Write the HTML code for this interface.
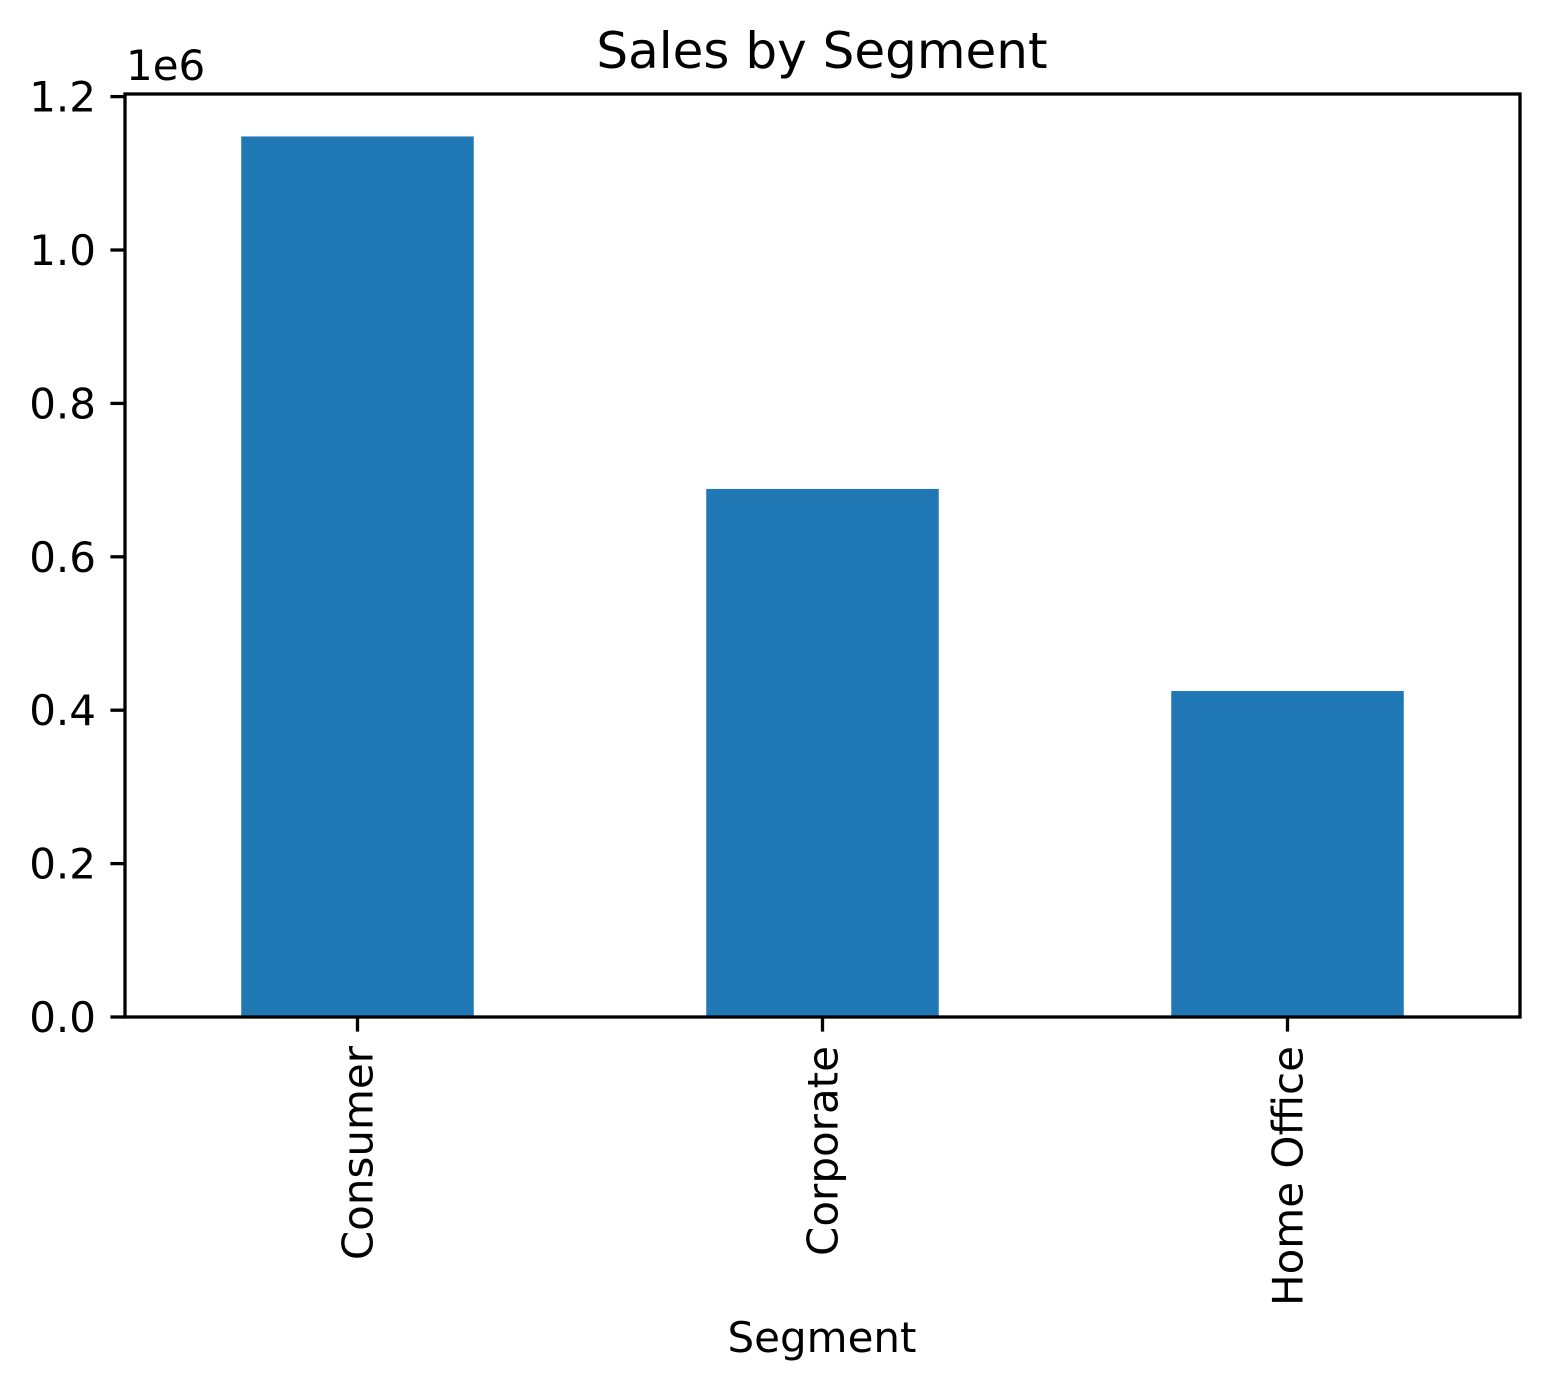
<!DOCTYPE html>
<html><head><meta charset="utf-8"><style>
body{margin:0;background:#fff;}
svg text{font-family:"DejaVu Sans","Liberation Sans",sans-serif;fill:#000;}
</style></head><body>
<svg id="chart" width="1550" height="1391" viewBox="0 0 1550 1391" xmlns="http://www.w3.org/2000/svg">
<rect width="1550" height="1391" fill="#fff"/>
<text x="822" y="68" font-size="50" text-anchor="middle">Sales by Segment</text>
<text x="126" y="80" font-size="42">1e6</text>
<text x="822" y="1352" font-size="42" text-anchor="middle">Segment</text>
<g id="bars"></g>
<g id="axes"></g>
</svg>
<script>
const categories = ["Consumer", "Corporate", "Home Office"];
const sales = [1148061, 688494, 424982];
const yTicks = [0, 0.2e6, 0.4e6, 0.6e6, 0.8e6, 1.0e6, 1.2e6];
const yTickLabels = ["0.0", "0.2", "0.4", "0.6", "0.8", "1.0", "1.2"];

const L = 125, R = 1520, T = 94, B = 1017;
const yMax = 1.2034e6;
const xScale = i => L + (i + 0.5) * (R - L) / categories.length;
const yScale = v => B - v / yMax * (B - T);
const NS = "http://www.w3.org/2000/svg";
const bars = document.getElementById("bars");
const axes = document.getElementById("axes");
const bw = 0.5 * (R - L) / categories.length;

sales.forEach((v, i) => {
  const r = document.createElementNS(NS, "rect");
  r.setAttribute("x", xScale(i) - bw / 2);
  r.setAttribute("y", yScale(v));
  r.setAttribute("width", bw);
  r.setAttribute("height", B - yScale(v));
  r.setAttribute("fill", "#1f77b4");
  
  
  bars.appendChild(r);
});

const frame = document.createElementNS(NS, "rect");
frame.setAttribute("x", L); frame.setAttribute("y", T);
frame.setAttribute("width", R - L); frame.setAttribute("height", B - T);
frame.setAttribute("fill", "none"); frame.setAttribute("stroke", "#000"); frame.setAttribute("stroke-width", "3.3");


axes.appendChild(frame);

yTicks.forEach((v, i) => {
  const y = yScale(v);
  const t = document.createElementNS(NS, "line");
  t.setAttribute("x1", L - 14.6); t.setAttribute("x2", L);
  t.setAttribute("y1", y); t.setAttribute("y2", y);
  t.setAttribute("stroke", "#000"); t.setAttribute("stroke-width", "3.3");
  
  
  axes.appendChild(t);
  const tx = document.createElementNS(NS, "text");
  tx.setAttribute("x", L - 29); tx.setAttribute("y", y + 15);
  tx.setAttribute("font-size", "42"); tx.setAttribute("text-anchor", "end");
  tx.textContent = yTickLabels[i];
  
  
  axes.appendChild(tx);
});

categories.forEach((c, i) => {
  const x = xScale(i);
  const t = document.createElementNS(NS, "line");
  t.setAttribute("x1", x); t.setAttribute("x2", x);
  t.setAttribute("y1", B); t.setAttribute("y2", B + 14.6);
  t.setAttribute("stroke", "#000"); t.setAttribute("stroke-width", "3.3");
  
  
  axes.appendChild(t);
  const tx = document.createElementNS(NS, "text");
  tx.setAttribute("transform", "translate(" + (x + 15) + "," + (B + 29) + ") rotate(-90)");
  tx.setAttribute("font-size", "42"); tx.setAttribute("text-anchor", "end");
  tx.textContent = c;
  
  
  axes.appendChild(tx);
});
</script>
</body></html>
